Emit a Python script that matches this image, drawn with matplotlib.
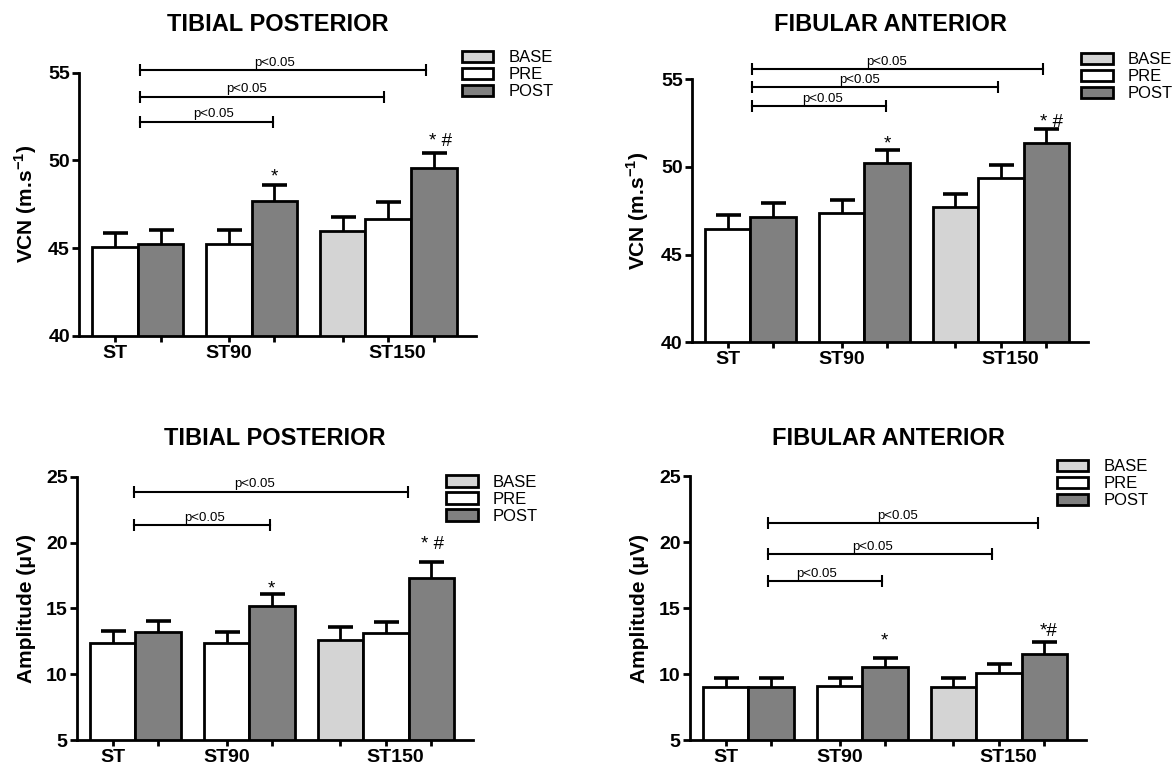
import matplotlib as mpl
import matplotlib.pyplot as plt
import numpy as np
mpl.use('agg')

plt.rcParams['font.family'] = ['Liberation Sans', 'DejaVu Sans']
plt.rcParams['mathtext.fontset'] = 'custom'
plt.rcParams['mathtext.rm'] = 'Liberation Sans'
plt.rcParams['mathtext.bf'] = 'Liberation Sans:bold'

groups = ['ST', 'ST90', 'ST150']
series = ['BASE', 'PRE', 'POST']

# tibial posterior, VCN (m/s)
tp_vcn_base = [45.99]
tp_vcn_base_sem = [0.80]
tp_vcn_pre = [45.08, 45.23, 46.65]
tp_vcn_pre_sem = [0.76, 0.80, 0.97]
tp_vcn_post = [45.23, 47.66, 49.58]
tp_vcn_post_sem = [0.80, 0.93, 0.86]

# fibular anterior, VCN (m/s)
fa_vcn_base = [47.70]
fa_vcn_base_sem = [0.74]
fa_vcn_pre = [46.44, 47.40, 49.35]
fa_vcn_pre_sem = [0.82, 0.72, 0.75]
fa_vcn_post = [47.17, 50.21, 51.35]
fa_vcn_post_sem = [0.76, 0.76, 0.80]

# tibial posterior, amplitude (uV)
tp_amp_base = [12.60]
tp_amp_base_sem = [1.01]
tp_amp_pre = [12.39, 12.34, 13.15]
tp_amp_pre_sem = [0.91, 0.86, 0.84]
tp_amp_post = [13.18, 15.18, 17.33]
tp_amp_post_sem = [0.86, 0.91, 1.16]

# fibular anterior, amplitude (uV)
fa_amp_base = [8.99]
fa_amp_base_sem = [0.73]
fa_amp_pre = [8.99, 9.09, 10.10]
fa_amp_pre_sem = [0.68, 0.63, 0.66]
fa_amp_post = [9.04, 10.56, 11.49]
fa_amp_post_sem = [0.63, 0.68, 0.91]

# layout of the bars along x
pre_x = np.array([0, 2.5, 6])
post_x = np.array([1, 3.5, 7])
base_x = np.array([5])
label_x = [0, 2.5, 6.2]

colors = {'BASE': '#d4d4d4', 'PRE': 'white', 'POST': '#808080'}


def drawPanel(ax, title, ylabel, ylim, yticks, data, brackets, stars, legAnchor, titlePad):
    base, base_sem, pre, pre_sem, post, post_sem = data
    handles = []
    for name, xs, vals, sem in [('BASE', base_x, base, base_sem),
                                ('PRE', pre_x, pre, pre_sem),
                                ('POST', post_x, post, post_sem)]:
        b = ax.bar(xs, vals, width=1.0, color=colors[name], edgecolor='black',
                   linewidth=2, zorder=2, label=name)
        eb = ax.errorbar(xs, vals, yerr=[np.zeros(len(vals)), sem], fmt='none',
                         ecolor='black', elinewidth=2, capsize=9, capthick=2.6, zorder=3)
        # only the upper whisker is shown
        eb[1][0].set_visible(False)
        handles.append(b)

    for s, e, y, tx in brackets:
        ax.plot([s, e], [y, y], color='black', lw=1.5, marker='|', markersize=8,
                mew=1.5, clip_on=False, zorder=4)
        ax.annotate('p<0.05', (tx, y), xytext=(0, 1), textcoords='offset points',
                    ha='center', va='bottom', fontsize=9.5, annotation_clip=False)
    for x, y, txt in stars:
        ax.text(x, y, txt, ha='center', va='top', fontsize=13.5, clip_on=False)

    ax.set_xlim(-0.79, 7.92)
    ax.set_ylim(*ylim)
    ax.set_yticks(yticks)
    ax.set_yticklabels([str(t) for t in yticks], fontsize=14, fontweight='bold')
    ax.xaxis.remove_overlapping_locs = False
    ax.set_xticks(np.sort(np.concatenate([pre_x, post_x, base_x])))
    ax.set_xticklabels([])
    ax.set_xticks(label_x, groups, minor=True)
    for lab in ax.get_xticklabels(minor=True):
        lab.set_fontsize(14)
        lab.set_fontweight('bold')
    ax.tick_params(axis='x', which='major', length=4.5, width=2)
    ax.tick_params(axis='x', which='minor', length=0, pad=6.5)
    ax.tick_params(axis='y', length=5, width=2, pad=1.5)
    for side in ['top', 'right']:
        ax.spines[side].set_visible(False)
    for side in ['left', 'bottom']:
        ax.spines[side].set_linewidth(2)
    ax.set_ylabel(ylabel, fontsize=15, fontweight='bold', labelpad=7)
    ax.set_title(title, fontsize=17, fontweight='bold', pad=titlePad)
    ax.legend(handles=handles, labels=series, loc='upper left', bbox_to_anchor=legAnchor,
              frameon=False, fontsize=12, borderpad=0, borderaxespad=0,
              labelspacing=0.12, handlelength=1.9, handleheight=0.65, handletextpad=0.9)


fig = plt.figure(figsize=(11.76, 7.67), dpi=100)
ax1 = fig.add_axes([0.0672, 0.5623, 0.3373, 0.3429])
ax2 = fig.add_axes([0.5882, 0.5537, 0.3373, 0.3429])
ax3 = fig.add_axes([0.0652, 0.0352, 0.3373, 0.3433])
ax4 = fig.add_axes([0.5865, 0.0352, 0.3373, 0.3442])

vcnLabel = r'VCN (m.s$^{\mathbf{-1}}$)'
ampLabel = 'Amplitude (μV)'

drawPanel(ax1, 'TIBIAL POSTERIOR', vcnLabel, (40, 55), [40, 45, 50, 55],
          (tp_vcn_base, tp_vcn_base_sem, tp_vcn_pre, tp_vcn_pre_sem, tp_vcn_post, tp_vcn_post_sem),
          [(0.55, 6.83, 55.15, 3.5), (0.55, 5.90, 53.63, 2.89), (0.55, 3.48, 52.2, 2.17)],
          [(3.5, 49.55, '*'), (7.14, 51.54, '* #')], (0.965, 1.085), 29.8)
drawPanel(ax2, 'FIBULAR ANTERIOR', vcnLabel, (40, 55), [40, 45, 50, 55],
          (fa_vcn_base, fa_vcn_base_sem, fa_vcn_pre, fa_vcn_pre_sem, fa_vcn_post, fa_vcn_post_sem),
          [(0.535, 6.93, 55.59, 3.49), (0.535, 5.93, 54.54, 2.9), (0.535, 3.47, 53.48, 2.09)],
          [(3.5, 51.82, '*'), (7.1, 53.0, '* #')], (0.981, 1.104), 34.5)
drawPanel(ax3, 'TIBIAL POSTERIOR', ampLabel, (5, 25), [5, 10, 15, 20, 25],
          (tp_amp_base, tp_amp_base_sem, tp_amp_pre, tp_amp_pre_sem, tp_amp_post, tp_amp_post_sem),
          [(0.47, 6.48, 23.86, 3.11), (0.47, 3.46, 21.33, 2.02)],
          [(3.48, 17.1, '*'), (7.03, 20.5, '* #')], (0.931, 1.007), 23)
drawPanel(ax4, 'FIBULAR ANTERIOR', ampLabel, (5, 25), [5, 10, 15, 20, 25],
          (fa_amp_base, fa_amp_base_sem, fa_amp_pre, fa_amp_pre_sem, fa_amp_post, fa_amp_post_sem),
          [(0.93, 6.86, 21.41, 3.77), (0.93, 5.85, 19.07, 3.23), (0.93, 3.43, 17.05, 1.99)],
          [(3.49, 13.13, '*'), (7.1, 13.84, '*#')], (0.925, 1.063), 22.5)

plt.savefig('out.png', dpi=100)
